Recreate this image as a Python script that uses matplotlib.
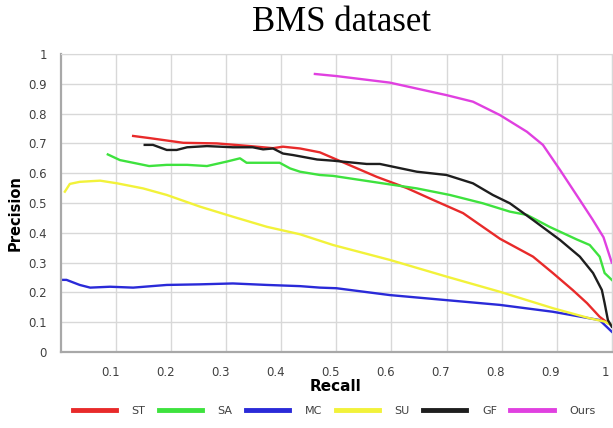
import matplotlib.pyplot as plt
import matplotlib.transforms as mtransforms
import numpy as np

# ST
st_r = [0.131, 0.16, 0.222, 0.283, 0.343, 0.385, 0.403, 0.434, 0.47, 0.524, 0.573, 0.628,
        0.676, 0.73, 0.797, 0.857, 0.893, 0.929, 0.955, 0.978, 0.993, 1.0]
st_p = [0.725, 0.718, 0.702, 0.70, 0.691, 0.684, 0.689, 0.683, 0.670, 0.627, 0.588, 0.55,
        0.51, 0.466, 0.38, 0.32, 0.265, 0.208, 0.164, 0.118, 0.097, 0.09]
# SA
sa_r = [0.085, 0.107, 0.131, 0.16, 0.192, 0.229, 0.265, 0.301, 0.325, 0.337, 0.397, 0.416,
        0.434, 0.47, 0.494, 0.584, 0.646, 0.706, 0.766, 0.815, 0.846, 0.887, 0.936, 0.96,
        0.978, 0.987, 1.0]
sa_p = [0.663, 0.644, 0.635, 0.624, 0.628, 0.628, 0.624, 0.639, 0.65, 0.635, 0.635, 0.616,
        0.605, 0.594, 0.591, 0.566, 0.549, 0.527, 0.499, 0.471, 0.46, 0.42, 0.378, 0.359,
        0.32, 0.265, 0.242]
# MC
mc_r = [0.0, 0.01, 0.034, 0.053, 0.089, 0.131, 0.192, 0.252, 0.312, 0.374, 0.434, 0.47,
        0.5, 0.597, 0.70, 0.797, 0.893, 0.978, 1.0]
mc_p = [0.242, 0.242, 0.225, 0.216, 0.219, 0.216, 0.225, 0.227, 0.23, 0.225, 0.221, 0.216,
        0.214, 0.191, 0.174, 0.158, 0.135, 0.107, 0.068]
# SU
su_r = [0.007, 0.016, 0.034, 0.071, 0.102, 0.149, 0.192, 0.252, 0.312, 0.374, 0.434, 0.494,
        0.597, 0.70, 0.797, 0.893, 0.96, 0.987, 1.0]
su_p = [0.538, 0.564, 0.571, 0.575, 0.566, 0.549, 0.527, 0.488, 0.454, 0.42, 0.395, 0.359,
        0.309, 0.253, 0.202, 0.147, 0.113, 0.102, 0.09]
# GF
gf_r = [0.152, 0.167, 0.192, 0.21, 0.229, 0.265, 0.312, 0.348, 0.367, 0.385, 0.403, 0.421,
        0.465, 0.494, 0.555, 0.579, 0.646, 0.70, 0.748, 0.784, 0.815, 0.857, 0.906, 0.942,
        0.966, 0.982, 0.987, 0.993, 1.0]
gf_p = [0.695, 0.695, 0.678, 0.678, 0.687, 0.691, 0.687, 0.687, 0.68, 0.683, 0.666, 0.661,
        0.646, 0.642, 0.631, 0.631, 0.605, 0.594, 0.566, 0.527, 0.499, 0.443, 0.376, 0.32,
        0.265, 0.208, 0.164, 0.107, 0.085]
# Ours
ours_r = [0.461, 0.5, 0.597, 0.70, 0.748, 0.797, 0.846, 0.875, 0.906, 0.942, 0.965, 0.985, 1.0]
ours_p = [0.933, 0.926, 0.904, 0.862, 0.84, 0.795, 0.739, 0.695, 0.611, 0.51, 0.445, 0.385, 0.30]

series = [("ST", st_r, st_p, "#e82a2a"),
          ("SA", sa_r, sa_p, "#3ee23e"),
          ("MC", mc_r, mc_p, "#2a2ad8"),
          ("SU", su_r, su_p, "#f2f23a"),
          ("GF", gf_r, gf_p, "#1e1e1e"),
          ("Ours", ours_r, ours_p, "#e040e0")]

x_ticks = [0.1, 0.2, 0.3, 0.4, 0.5, 0.6, 0.7, 0.8, 0.9, 1.0]
x_labels = ["0.1", "0.2", "0.3", "0.4", "0.5", "0.6", "0.7", "0.8", "0.9", "1"]
y_ticks = [0, 0.1, 0.2, 0.3, 0.4, 0.5, 0.6, 0.7, 0.8, 0.9, 1.0]
y_labels = ["0", "0.1", "0.2", "0.3", "0.4", "0.5", "0.6", "0.7", "0.8", "0.9", "1"]

fig = plt.figure(figsize=(6.13, 4.28), dpi=100)
ax = fig.add_axes([0.0995, 0.1776, 0.8985, 0.6962])

for name, r, p, c in series:
    ax.plot(r, p, color=c, lw=1.7, label=name)

ax.set_xlim(0, 1.0)
ax.set_ylim(0, 1.0)
ax.set_xticks(x_ticks)
ax.set_xticklabels(x_labels)
ax.set_yticks(y_ticks)
ax.set_yticklabels(y_labels)
ax.tick_params(length=0, labelsize=8.5, labelcolor="#404040", pad=10)
# x labels sit a little left of their grid lines, as in the original
shift = mtransforms.ScaledTranslation(-6 / 100, 0, fig.dpi_scale_trans)
for lab in ax.get_xticklabels():
    lab.set_transform(lab.get_transform() + shift)
ax.grid(True, color="#d8d8d8", lw=1)
ax.set_axisbelow(True)
for s in ["top", "right"]:
    ax.spines[s].set_color("#d8d8d8")
for s in ["left", "bottom"]:
    ax.spines[s].set_color("#a8a8a8")
    ax.spines[s].set_linewidth(1.6)

ax.set_xlabel("Recall", fontsize=11, fontweight="bold")
ax.xaxis.set_label_coords(0.498, -0.09)
ax.set_ylabel("Precision", fontsize=10.5, fontweight="bold")
ax.yaxis.set_label_coords(-0.07, 0.466)

fig.text(0.558, 0.947, "BMS dataset", family="Liberation Serif", fontsize=25,
         ha="center", va="center")

leg = fig.legend(loc="center", bbox_to_anchor=(0.545, 1 - 411 / 428), ncol=6,
                 frameon=False, fontsize=8, handlelength=3.9, handletextpad=1.4,
                 columnspacing=1.2)
for line in leg.get_lines():
    line.set_linewidth(3.5)
for t in leg.get_texts():
    t.set_color("#404040")

fig.savefig("out.png", dpi=100)
